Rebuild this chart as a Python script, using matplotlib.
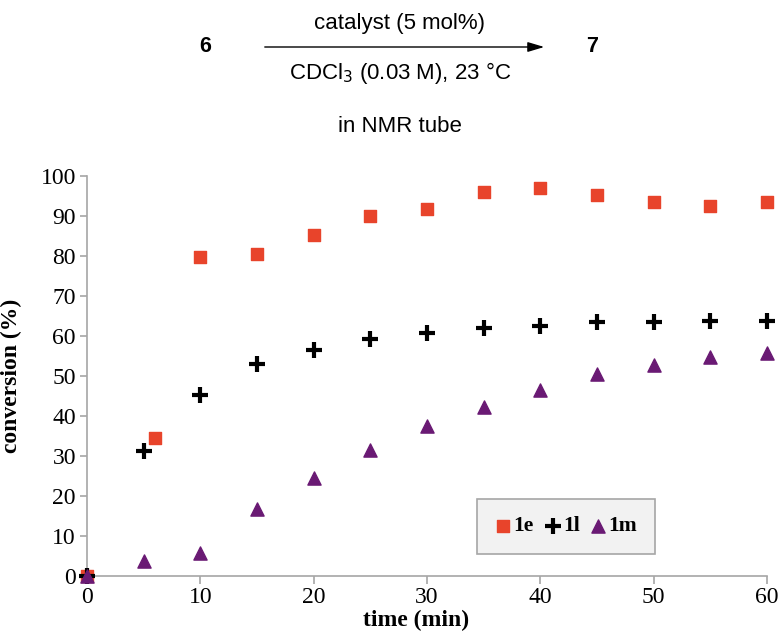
import matplotlib
matplotlib.use("Agg")
import matplotlib.pyplot as plt

# conversion (%) vs time (min)
time_1e = [0, 6, 10, 15, 20, 25, 30, 35, 40, 45, 50, 55, 60]
conv_1e = [0, 34.5, 79.8, 80.4, 85.3, 90.1, 91.7, 96.1, 97.1, 95.2, 93.4, 92.5, 93.4]
time_1l = [0, 5, 10, 15, 20, 25, 30, 35, 40, 45, 50, 55, 60]
conv_1l = [0, 31.2, 45.2, 53.0, 56.5, 59.3, 60.8, 62.1, 62.6, 63.4, 63.4, 63.8, 63.8]
time_1m = [0, 5, 10, 15, 20, 25, 30, 35, 40, 45, 50, 55, 60]
conv_1m = [0, 3.8, 5.8, 16.8, 24.4, 31.5, 37.6, 42.3, 46.5, 50.5, 52.7, 54.7, 55.7]
labels = ["1e", "1l", "1m"]
xticks = [0, 10, 20, 30, 40, 50, 60]
yticks = list(range(0, 101, 10))

RED, INK, PURPLE, GREY = "#e8442b", "#000000", "#6a1a74", "#a6a6a6"
SERIF = "Liberation Serif"
SANS = "Liberation Sans"

fig = plt.figure(figsize=(7.8, 6.31), dpi=100)
fig.patch.set_facecolor("white")

# reaction scheme above the plot
fig.text(205 / 780, 1 - 47 / 631, "6", fontsize=15.5, fontweight="bold", family=SANS, ha="center", va="center")
fig.text(592 / 780, 1 - 47 / 631, "7", fontsize=15.5, fontweight="bold", family=SANS, ha="center", va="center")
fig.text(400 / 780, 1 - 24 / 631, "catalyst (5 mol%)", fontsize=16, family=SANS, ha="center", va="center")
fig.text(400 / 780, 1 - 73 / 631, "CDCl$_3$ (0.03 M), 23 °C", fontsize=16, family=SANS, ha="center", va="center")
fig.text(400 / 780, 1 - 126 / 631, "in NMR tube", fontsize=16, family=SANS, ha="center", va="center")
fig.add_artist(matplotlib.patches.FancyArrowPatch(
    (262 / 780, 1 - 47 / 631), (547 / 780, 1 - 47 / 631), transform=fig.transFigure,
    arrowstyle="-|>,head_length=1.0,head_width=0.3", color="black", lw=1.0, mutation_scale=10))

ax = fig.add_axes([87 / 780, 1 - 576 / 631, 680 / 780, 400 / 631])
ax.scatter(time_1e, conv_1e, marker="s", s=80, color=RED, label=labels[0], clip_on=False, zorder=3)
ax.scatter(time_1l, conv_1l, marker="+", s=130, color=INK, linewidths=3, label=labels[1], clip_on=False, zorder=4)
ax.scatter(time_1m, conv_1m, marker="^", s=90, color=PURPLE, label=labels[2], clip_on=False, zorder=5)

ax.set_xlim(0, 60)
ax.set_ylim(0, 100)
ax.set_xticks(xticks)
ax.set_yticks(yticks)
for s in ("top", "right"):
    ax.spines[s].set_visible(False)
for s in ("left", "bottom"):
    ax.spines[s].set_color(GREY)
    ax.spines[s].set_linewidth(1.2)
ax.tick_params(axis="x", direction="out", length=6, color=GREY, width=1.2, labelsize=17, pad=2)
ax.tick_params(axis="y", direction="out", length=5, color=GREY, width=1.2, labelsize=17, pad=3)
for lab in ax.get_xticklabels() + ax.get_yticklabels():
    lab.set_family(SERIF)

ax.set_xlabel("time (min)", fontsize=17, fontweight="bold", family=SERIF)
ax.xaxis.set_label_coords(0.484, -0.085)
ax.set_ylabel("conversion (%)", fontsize=17, fontweight="bold", family=SERIF)
ax.yaxis.set_label_coords(-0.096, 0.5)

leg = ax.legend(loc="center", bbox_to_anchor=(0.704, 0.124), ncol=3, frameon=True, fancybox=False,
                handletextpad=0.05, columnspacing=0.45, borderpad=0.8, handlelength=0.85,
                prop={"family": SERIF, "weight": "bold", "size": 15.5})
leg.get_frame().set_facecolor("#f2f2f2")
leg.get_frame().set_edgecolor(GREY)
leg.get_frame().set_linewidth(1.2)
leg.get_frame().set_alpha(1)

fig.savefig("out.png", dpi=100, facecolor="white")
